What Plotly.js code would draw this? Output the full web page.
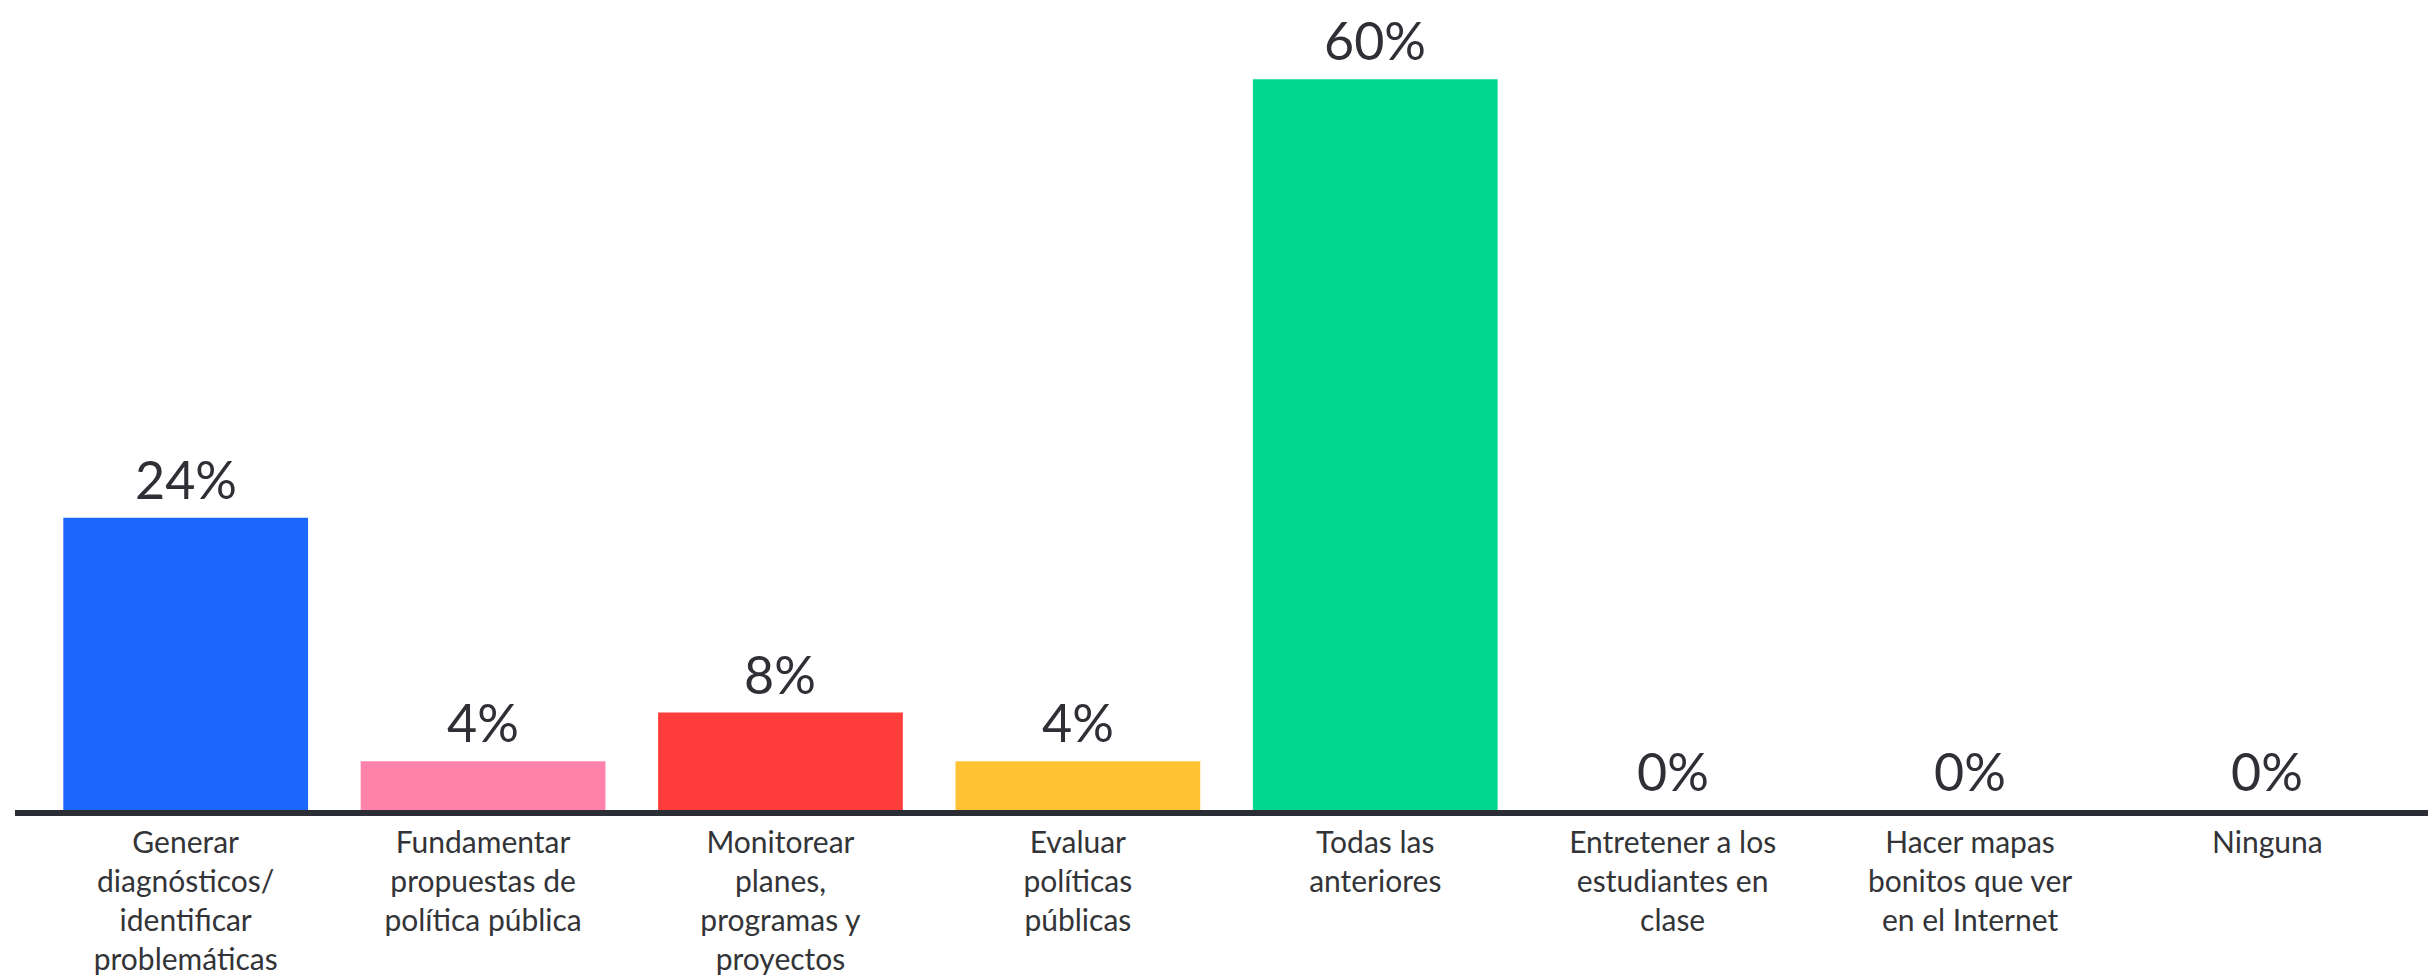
<!DOCTYPE html>
<html>
<head>
<meta charset="utf-8">
<script src="https://cdn.plot.ly/plotly-3.0.1.min.js"></script>
<style>html,body{margin:0;padding:0;background:#fff;}#chart{width:2428px;height:980px;}</style>
</head>
<body>
<div id="chart"></div>
<script>
const categories = ["Generar diagnósticos/identificar problemáticas","Fundamentar propuestas de política pública","Monitorear planes, programas y proyectos","Evaluar políticas públicas","Todas las anteriores","Entretener a los estudiantes en clase","Hacer mapas bonitos que ver en el Internet","Ninguna"];
const tickLabels = ["Generar<br>diagnósticos/<br>identificar<br>problemáticas","Fundamentar<br>propuestas de<br>política pública","Monitorear<br>planes,<br>programas y<br>proyectos","Evaluar<br>políticas<br>públicas","Todas las<br>anteriores","Entretener a los<br>estudiantes en<br>clase","Hacer mapas<br>bonitos que ver<br>en el Internet","Ninguna"];
const values = [24, 4, 8, 4, 60, 0, 0, 0];
const colors = ["#1c66fb","#ff82ab","#ff3e3b","#ffc233","#00d890","#ffffff","#ffffff","#ffffff"];

const annotations = categories.map((c, i) => ({
  x: c, y: values[i], xref: 'x', yref: 'y',
  text: values[i] + '%', showarrow: false, yanchor: 'bottom', yshift: 6,
  font: {family: 'Lato, sans-serif', size: 52, color: '#2e3036'}
}));

Plotly.newPlot('chart', [{
  type: 'bar', x: categories, y: values,
  marker: {color: colors},
  hoverinfo: 'none'
}], {
  width: 2428, height: 980,
  margin: {l: 15, r: 0, t: 0, b: 170},
  paper_bgcolor: '#ffffff', plot_bgcolor: '#ffffff',
  bargap: 0.177,
  showlegend: false,
  xaxis: {
    type: 'category', range: [-0.574, 7.54],
    tickvals: categories, ticktext: tickLabels,
    showline: true, linecolor: '#2a2d33', linewidth: 6,
    showgrid: false, zeroline: false, ticks: '',
    ticklabelstandoff: 1,
    tickfont: {family: 'Lato, sans-serif', size: 30, color: '#333438'}
  },
  yaxis: {range: [0, 66.5], visible: false, showgrid: false, zeroline: false},
  annotations: annotations
}, {displayModeBar: false, staticPlot: true});
</script>
</body>
</html>
